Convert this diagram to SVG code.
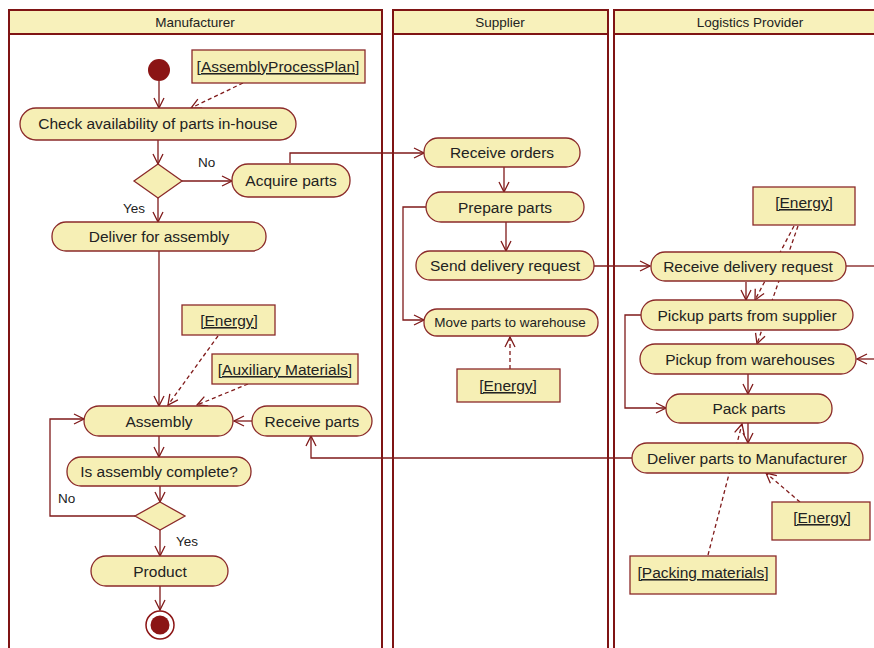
<svg xmlns="http://www.w3.org/2000/svg" width="874" height="648" viewBox="0 0 874 648">
<style>
.lane{fill:#ffffff;stroke:#7f1414;stroke-width:2}
.hdr{fill:#f8f1bb;stroke:#7f1414;stroke-width:2}
.ht{font-family:"Liberation Sans",Arial,sans-serif;font-size:13.5px;fill:#222;text-anchor:middle}
.act{fill:#f6efb5;stroke:#8b2a2a;stroke-width:1.3}
.t{font-family:"Liberation Sans",Arial,sans-serif;font-size:15.5px;fill:#222;text-anchor:middle}
.ts{font-family:"Liberation Sans",Arial,sans-serif;font-size:13.5px;fill:#222;text-anchor:middle}
.obj{fill:#f6efb5;stroke:#8b2a2a;stroke-width:1.3}
.ot{font-family:"Liberation Sans",Arial,sans-serif;font-size:15.5px;fill:#222;text-anchor:middle;text-decoration:underline}
.lbl{font-family:"Liberation Sans",Arial,sans-serif;font-size:13.5px;fill:#222}
.c{fill:none;stroke:#7f1a1a;stroke-width:1.3;marker-end:url(#arr)}
.cn{fill:none;stroke:#7f1a1a;stroke-width:1.3}
.d{fill:none;stroke:#7f1a1a;stroke-width:1.3;stroke-dasharray:4,3;marker-end:url(#arr)}
</style>
<defs>
<marker id="arr" viewBox="0 0 12 12" markerWidth="12" markerHeight="12" refX="11" refY="6" orient="auto" markerUnits="userSpaceOnUse">
<path d="M1,1 L11,6 L1,11" fill="none" stroke="#7f1a1a" stroke-width="1.3"/>
</marker>
</defs>
<rect width="874" height="648" fill="#ffffff"/>

<g id="lane-manufacturer">
<rect class="lane" x="9" y="34" width="373" height="630"/>
<rect class="hdr" x="9" y="10" width="373" height="24"/>
<text class="ht" x="195" y="27">Manufacturer</text>
</g>
<g id="lane-supplier">
<rect class="lane" x="393" y="34" width="215" height="630"/>
<rect class="hdr" x="393" y="10" width="215" height="24"/>
<text class="ht" x="500" y="27">Supplier</text>
</g>
<g id="lane-logistics">
<rect class="lane" x="614" y="34" width="290" height="630"/>
<rect class="hdr" x="614" y="10" width="290" height="24"/>
<text class="ht" x="750" y="27">Logistics Provider</text>
</g>

<g id="connectors">
<line class="c" x1="159" y1="81" x2="159" y2="108"/>
<line class="d" x1="243" y1="83" x2="191" y2="108"/>
<line class="c" x1="158" y1="140" x2="158" y2="164"/>
<line class="c" x1="182" y1="181" x2="232" y2="181"/>
<line class="c" x1="158" y1="198" x2="158" y2="222"/>
<polyline class="c" points="290,163 290,153 424,153"/>
<line class="c" x1="159" y1="251" x2="159" y2="406"/>
<line class="d" x1="218" y1="336" x2="168" y2="405"/>
<line class="d" x1="248" y1="384" x2="197" y2="405"/>
<line class="c" x1="252" y1="421" x2="234" y2="421"/>
<line class="c" x1="159" y1="436" x2="159" y2="457"/>
<line class="c" x1="160" y1="486" x2="160" y2="502"/>
<polyline class="c" points="135,516 50,516 50,419 84,419"/>
<line class="c" x1="160" y1="530" x2="160" y2="556"/>
<line class="c" x1="160" y1="586" x2="160" y2="610"/>
<polyline class="c" points="632,458 311,458 311,436"/>
<line class="c" x1="504" y1="167" x2="504" y2="192"/>
<line class="c" x1="506" y1="222" x2="506" y2="251"/>
<polyline class="c" points="426,207 403,207 403,320 424,320"/>
<line class="d" x1="510" y1="369" x2="510" y2="337"/>
<line class="c" x1="594" y1="266" x2="650" y2="266"/>
<line class="cn" x1="846" y1="266" x2="874" y2="266"/>
<line class="c" x1="874" y1="359" x2="857" y2="359"/>
<line class="c" x1="746" y1="282" x2="746" y2="300"/>
<line class="d" x1="794" y1="226" x2="755" y2="300"/>
<line class="d" x1="798" y1="226" x2="757" y2="344"/>
<polyline class="c" points="641,315 625,315 625,408 666,408"/>
<line class="c" x1="748" y1="374" x2="748" y2="394"/>
<line class="c" x1="748" y1="423" x2="748" y2="443"/>
<line class="d" x1="708" y1="555" x2="742" y2="424"/>
<line class="d" x1="800" y1="502" x2="766" y2="473"/>
</g>

<g id="initial"><circle cx="159" cy="70" r="11" fill="#8b1414"/></g>
<g id="obj-plan"><rect class="obj" x="192" y="50" width="173" height="33"/><text class="ot" x="278" y="72">[AssemblyProcessPlan]</text></g>
<g id="check"><rect class="act" x="20" y="108" width="276" height="32" rx="16"/><text class="t" x="158" y="129">Check availability of parts in-house</text></g>
<g id="dec1"><polygon class="act" points="158,164 182,181 158,198 134,181"/></g>
<text class="lbl" x="198" y="167">No</text>
<text class="lbl" x="123" y="213">Yes</text>
<g id="acquire"><rect class="act" x="232" y="164" width="118" height="33" rx="16"/><text class="t" x="291" y="186">Acquire parts</text></g>
<g id="deliver-assembly"><rect class="act" x="52" y="222" width="214" height="29" rx="14"/><text class="t" x="159" y="242">Deliver for assembly</text></g>
<g id="obj-energy1"><rect class="obj" x="182" y="305" width="93" height="30"/><text class="ot" x="229" y="326">[Energy]</text></g>
<g id="obj-aux"><rect class="obj" x="212" y="354" width="146" height="30"/><text class="ot" x="285" y="375">[Auxiliary Materials]</text></g>
<g id="assembly"><rect class="act" x="84" y="406" width="149" height="30" rx="15"/><text class="t" x="159" y="427">Assembly</text></g>
<g id="receive-parts"><rect class="act" x="252" y="406" width="120" height="30" rx="15"/><text class="t" x="312" y="427">Receive parts</text></g>
<g id="complete"><rect class="act" x="67" y="457" width="184" height="29" rx="14"/><text class="t" x="159" y="477">Is assembly complete?</text></g>
<g id="dec2"><polygon class="act" points="160,502 185,516 160,530 135,516"/></g>
<text class="lbl" x="58" y="503">No</text>
<text class="lbl" x="176" y="546">Yes</text>
<g id="product"><rect class="act" x="91" y="556" width="137" height="30" rx="15"/><text class="t" x="160" y="577">Product</text></g>
<g id="final"><circle cx="160" cy="625" r="14" fill="#ffffff" stroke="#8b1414" stroke-width="1.5"/><circle cx="160" cy="625" r="9.5" fill="#8b1414"/></g>

<g id="receive-orders"><rect class="act" x="424" y="138" width="156" height="29" rx="14"/><text class="t" x="502" y="158">Receive orders</text></g>
<g id="prepare"><rect class="act" x="426" y="192" width="158" height="30" rx="15"/><text class="t" x="505" y="213">Prepare parts</text></g>
<g id="send-request"><rect class="act" x="416" y="251" width="178" height="29" rx="14"/><text class="t" x="505" y="271">Send delivery request</text></g>
<g id="move-parts"><rect class="act" x="424" y="309" width="174" height="27" rx="13"/><text class="ts" x="510" y="327">Move parts to warehouse</text></g>
<g id="obj-energy2"><rect class="obj" x="457" y="369" width="103" height="33"/><text class="ot" x="508" y="391">[Energy]</text></g>

<g id="obj-energy3"><rect class="obj" x="753" y="187" width="102" height="38"/><text class="ot" x="804" y="208">[Energy]</text></g>
<g id="receive-request"><rect class="act" x="651" y="252" width="195" height="29" rx="14"/><text class="t" x="748" y="272">Receive delivery request</text></g>
<g id="pickup-supplier"><rect class="act" x="641" y="300" width="212" height="30" rx="15"/><text class="t" x="747" y="321">Pickup parts from supplier</text></g>
<g id="pickup-warehouses"><rect class="act" x="640" y="344" width="216" height="30" rx="15"/><text class="t" x="750" y="365">Pickup from warehouses</text></g>
<g id="pack"><rect class="act" x="666" y="394" width="166" height="29" rx="14"/><text class="t" x="749" y="414">Pack parts</text></g>
<g id="deliver-manufacturer"><rect class="act" x="632" y="443" width="231" height="30" rx="15"/><text class="t" x="747" y="464">Deliver parts to Manufacturer</text></g>
<g id="obj-energy4"><rect class="obj" x="772" y="502" width="98" height="38"/><text class="ot" x="822" y="523">[Energy]</text></g>
<g id="obj-packing"><rect class="obj" x="630" y="556" width="146" height="38"/><text class="ot" x="703" y="578">[Packing materials]</text></g>
</svg>
